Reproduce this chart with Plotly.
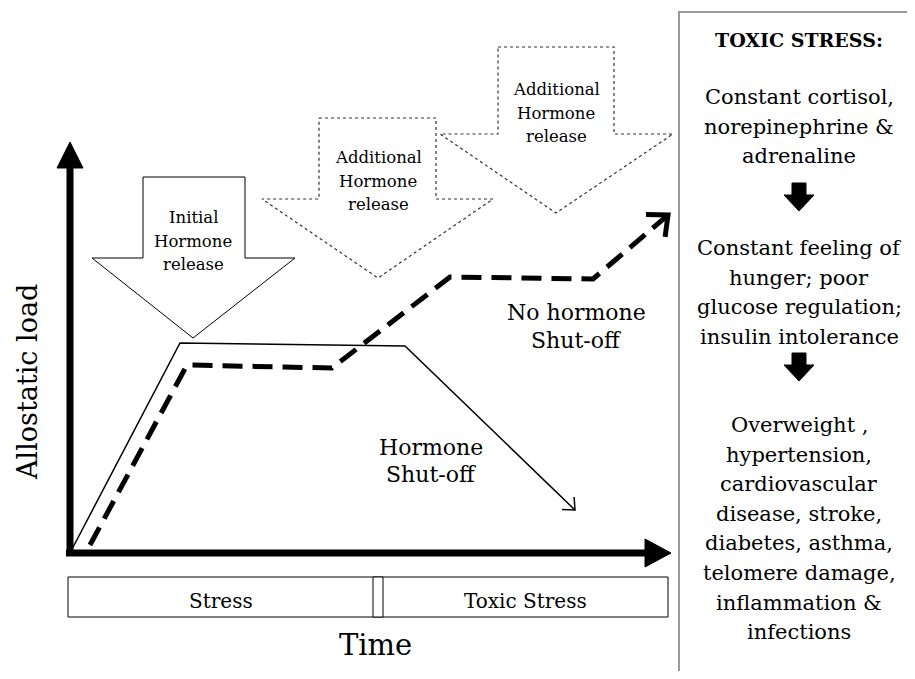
import plotly.graph_objects as go
import numpy as np

W, H = 915, 679
PAD = 8  # default page body margin; data coordinates = page pixels
FONT = "DejaVu Serif"

# ---- data: curves (time, allostatic load) in picture units ----
shutoff_x = [70, 180, 405, 575]
shutoff_y = [553, 343, 346, 510]
noshutoff_x = [90, 187, 332, 450, 593, 668]
noshutoff_y = [545, 365, 368, 277, 279, 215]

# axes
yaxis_arrow_x = [70, 70]
yaxis_arrow_y = [556, 160]
xaxis_arrow_x = [66, 648]
xaxis_arrow_y = [553, 553]

# hormone-release block arrows
release_labels = ["Initial<br>Hormone<br>release", "Additional<br>Hormone<br>release", "Additional<br>Hormone<br>release"]
release_shaft_l = [143, 319, 498]
release_shaft_r = [245, 436, 614]
release_top = [177, 118, 47]
release_shoulder = [258, 199, 134]
release_wing_l = [92, 262, 440]
release_wing_r = [295, 493, 673]
release_tip_x = [193, 378, 556]
release_tip_y = [338, 278, 213]
release_dash = ["solid", "dot", "dot"]

# phase bar
phase_labels = ["Stress", "Toxic Stress"]
phase_edges = [68, 373, 383, 668]

# right panel text
panel_title = "TOXIC STRESS:"
panel_groups = [
    ["Constant cortisol,", "norepinephrine &", "adrenaline"],
    ["Constant feeling of", "hunger; poor", "glucose regulation;", "insulin intolerance"],
    ["Overweight ,", "hypertension,", "cardiovascular", "disease, stroke,",
     "diabetes, asthma,", "telomere damage,", "inflammation &", "infections"],
]

fig = go.Figure()

def poly(xs, ys, dash="solid", width=1, color="black", fill="white"):
    fig.add_trace(go.Scatter(x=list(xs) + [xs[0]], y=list(ys) + [ys[0]], mode="lines",
                             fill="toself", fillcolor=fill,
                             line=dict(color=color, width=width, dash=dash),
                             hoverinfo="skip", showlegend=False))

def line(xs, ys, width=1, dash="solid", color="black"):
    fig.add_trace(go.Scatter(x=xs, y=ys, mode="lines",
                             line=dict(color=color, width=width, dash=dash),
                             hoverinfo="skip", showlegend=False))

def open_head(xs, ys, length, width, ang=40):
    x0, y0, x1, y1 = xs[-2], ys[-2], xs[-1], ys[-1]
    a = np.arctan2(y0 - y1, x0 - x1)
    hx, hy = [], []
    for s in (-1, 1):
        b = a + s * np.radians(ang)
        hx += [x1 + length * np.cos(b), x1]
        hy += [y1 + length * np.sin(b), y1]
    line([hx[0], hx[1], hx[2]], [hy[0], hy[1], hy[2]], width=width)

# block arrows
for i in range(3):
    sl, sr, t, sh = release_shaft_l[i], release_shaft_r[i], release_top[i], release_shoulder[i]
    wl, wr, tx, ty = release_wing_l[i], release_wing_r[i], release_tip_x[i], release_tip_y[i]
    poly([sl, sr, sr, wr, tx, wl, sl], [t, t, sh, sh, ty, sh, sh],
         dash=release_dash[i], width=1 if i == 0 else 1.2,
         color="black" if i == 0 else "#333333")

# curves
line(shutoff_x, shutoff_y, width=1.5)
open_head(shutoff_x, shutoff_y, 13, 1.5, ang=42)
line(noshutoff_x, noshutoff_y, width=5, dash="20px,10px")
open_head(noshutoff_x, noshutoff_y, 22, 5, ang=42)

# axes
line(yaxis_arrow_x, yaxis_arrow_y, width=7)
poly([57, 70, 83], [168, 142, 168], fill="black", color="black")
line(xaxis_arrow_x, xaxis_arrow_y, width=7)
poly([645, 671, 645], [539, 553, 567], fill="black", color="black")

# phase bar
poly([phase_edges[0], phase_edges[3], phase_edges[3], phase_edges[0]], [577, 577, 617, 617], width=1)
poly([phase_edges[1], phase_edges[2], phase_edges[2], phase_edges[1]], [577, 577, 617, 617], width=1)

# right panel border
line([679, 679, 915], [679, 12, 12], width=2, color="#9a9a9a")

# right panel small black arrows
for yt in (183, 353):
    poly([792, 806, 806, 814, 799, 784, 792], [yt, yt, yt + 12, yt + 12, yt + 28, yt + 12, yt + 12],
         fill="black", color="black")

ann = []
def txt(x, y, s, size, bold=False, angle=0):
    ann.append(dict(x=x, y=y, xref="x", yref="y", text=("<b>%s</b>" % s) if bold else s,
                    showarrow=False, textangle=angle, align="center",
                    font=dict(family=FONT, size=size, color="black"),
                    xanchor="center", yanchor="middle"))

# release labels
label_y = [241, 181, 113]
for i in range(3):
    for k, s in enumerate(release_labels[i].split("<br>")):
        txt(release_tip_x[i], label_y[i] - 23.5 + k * 23.5, s, 16.5)

txt(576, 312, "No hormone", 22)
txt(576, 340, "Shut-off", 22)
txt(431, 447, "Hormone", 22)
txt(431, 474, "Shut-off", 22)

txt(27, 382, "Allostatic load", 27, angle=-90)
txt(375, 645, "Time", 29)
txt((phase_edges[0] + phase_edges[1]) / 2, 601, phase_labels[0], 20)
txt((phase_edges[2] + phase_edges[3]) / 2, 601, phase_labels[1], 20)

# right panel text
txt(799, 40, panel_title, 19, bold=True)
starts = [97, 248, 425]
for g, y0 in zip(panel_groups, starts):
    for k, s in enumerate(g):
        txt(799, y0 + k * 29.6, s, 21)

fig.update_layout(
    width=W - 2 * PAD, height=H - 2 * PAD, margin=dict(l=0, r=0, t=0, b=0),
    paper_bgcolor="white", plot_bgcolor="white",
    xaxis=dict(range=[PAD, W - PAD], visible=False, fixedrange=True),
    yaxis=dict(range=[H - PAD, PAD], visible=False, fixedrange=True),
    annotations=ann, showlegend=False,
)
fig.write_html("out.html")
